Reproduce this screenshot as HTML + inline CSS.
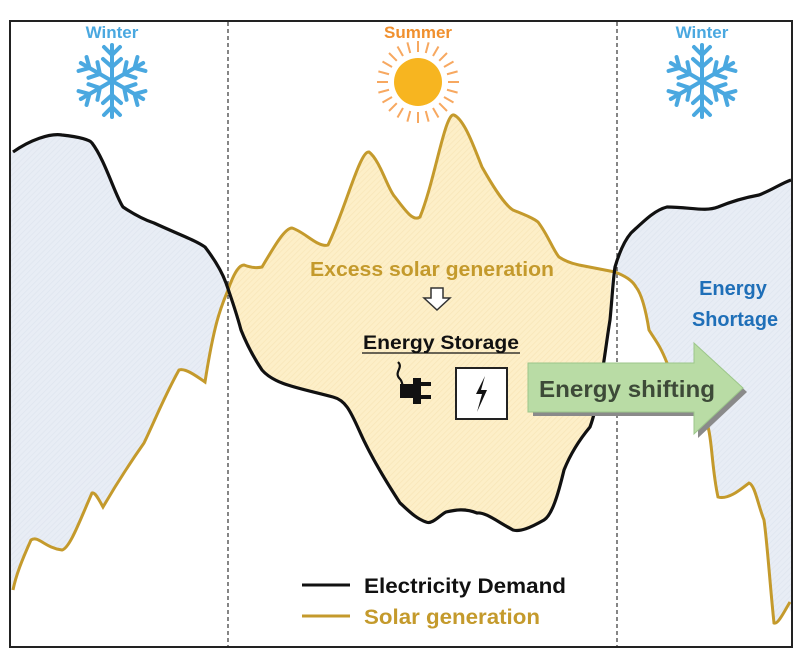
<!DOCTYPE html>
<html><head><meta charset="utf-8"><style>
html,body{margin:0;padding:0;background:#fff;}
svg{display:block;font-family:"Liberation Sans",sans-serif;}
</style></head><body>
<svg width="800" height="651" viewBox="0 0 800 651" xmlns="http://www.w3.org/2000/svg">
<defs>
<pattern id="hb" width="4" height="4" patternUnits="userSpaceOnUse" patternTransform="rotate(45)">
<rect width="4" height="4" fill="#e8edf5"/><line x1="0" y1="0" x2="0" y2="4" stroke="#dfe5ef" stroke-width="1.5"/></pattern>
<pattern id="hy" width="4" height="4" patternUnits="userSpaceOnUse" patternTransform="rotate(45)">
<rect width="4" height="4" fill="#fdefc8"/><line x1="0" y1="0" x2="0" y2="4" stroke="#f8e6b8" stroke-width="1.5"/></pattern>
<g id="flake" stroke="#4aa8e0" stroke-width="4" fill="none" stroke-linecap="round">
<g id="arm"><line x1="0" y1="0" x2="0" y2="-36"/><polyline points="-8,-34 0,-26 8,-34"/><polyline points="-9,-22 0,-14 9,-22"/></g>
<use href="#arm" transform="rotate(60)"/><use href="#arm" transform="rotate(120)"/><use href="#arm" transform="rotate(180)"/><use href="#arm" transform="rotate(240)"/><use href="#arm" transform="rotate(300)"/>
</g>
</defs>
<path d="M11,152 L13,152 C30,140 50,133 62,135 C80,137 90,140 92,143 C105,160 115,195 123,207 C135,215 145,220 154,223 C180,235 195,240 205,247 C215,260 222,272 228,288 L228,290 C222,305 215,318 205,382 C195,375 185,368 179,370 C165,395 155,420 144,443 C125,470 110,495 103,507 C98,498 95,492 92,493 C80,520 70,548 62,550 C45,548 38,535 31,540 C22,560 16,575 13,590 L11,590 Z" fill="url(#hb)"/>
<path d="M228,290 C235,270 240,265 244,265 C252,268 258,268 262,267 C275,245 285,228 292,228 C305,232 318,248 328,245 C345,210 360,150 369,152 C380,160 388,190 395,197 C405,210 413,222 420,217 C435,180 445,112 454,115 C465,120 475,150 482,167 C495,190 505,205 513,210 C525,215 533,218 538,222 C548,235 553,250 559,257 C568,263 575,264 579,265 C595,268 605,270 612,271 C610,290 610,305 610,320 C605,350 600,400 590,427 C575,445 568,460 564,470 C558,495 552,515 544,520 C530,528 520,532 513,530 C495,520 485,512 477,513 C465,508 455,510 446,512 C440,515 432,525 426,522 C415,518 408,510 400,503 C385,480 370,455 359,430 C350,410 345,400 333,397 C300,388 275,385 262,370 C252,355 245,340 241,330 C236,310 232,298 228,290 Z" fill="url(#hy)"/>
<path d="M612,271 C620,250 625,240 631,233 C645,220 655,210 667,207 C690,207 705,212 718,207 C735,200 748,197 759,195 C772,190 782,183 791,180 L791,612 C788,605 785,600 790,602 C785,610 778,625 774,623 C770,585 767,540 764,520 C758,505 755,485 749,483 C740,490 728,500 718,497 C712,470 712,440 708,427 C690,405 680,390 667,363 C660,345 655,340 649,330 C645,305 640,292 636,287 C628,278 620,273 612,271 Z" fill="url(#hb)"/>
<line x1="228" y1="22" x2="228" y2="647" stroke="#444" stroke-width="1.3" stroke-dasharray="4,3"/>
<line x1="617" y1="22" x2="617" y2="647" stroke="#444" stroke-width="1.3" stroke-dasharray="4,3"/>
<path d="M13,590 C16,575 22,560 31,540 C38,535 45,548 62,550 C70,548 80,520 92,493 C95,492 98,498 103,507 C110,495 125,470 144,443 C155,420 165,395 179,370 C185,368 195,375 205,382 C215,318 222,305 228,290 C235,270 240,265 244,265 C252,268 258,268 262,267 C275,245 285,228 292,228 C305,232 318,248 328,245 C345,210 360,150 369,152 C380,160 388,190 395,197 C405,210 413,222 420,217 C435,180 445,112 454,115 C465,120 475,150 482,167 C495,190 505,205 513,210 C525,215 533,218 538,222 C548,235 553,250 559,257 C568,263 575,264 579,265 C595,268 605,270 615,272 C625,276 632,280 636,287 C640,292 645,305 649,330 C655,340 660,345 667,363 C680,390 690,405 708,427 C712,440 712,470 718,497 C728,500 740,490 749,483 C755,485 758,505 764,520 C767,540 770,585 774,623 C778,625 785,610 790,602" fill="none" stroke="#c49a2c" stroke-width="3"/>
<path d="M13,152 C30,140 50,133 62,135 C80,137 90,140 92,143 C105,160 115,195 123,207 C135,215 145,220 154,223 C180,235 195,240 205,247 C215,260 222,272 226,283 C232,300 237,315 241,330 C245,340 252,355 262,370 C275,385 300,388 333,397 C345,400 350,410 359,430 C370,455 385,480 400,503 C408,510 415,518 426,522 C432,525 440,515 446,512 C455,510 465,508 477,513 C485,512 495,520 513,530 C520,532 530,528 544,520 C552,515 558,495 564,470 C568,460 575,445 590,427 C600,400 605,350 610,320 C612,300 613,280 615,267 C620,250 625,240 631,233 C645,220 655,210 667,207 C690,207 705,212 718,207 C735,200 748,197 759,195 C772,190 782,183 791,180" fill="none" stroke="#111" stroke-width="3.2"/>
<rect x="10" y="21" width="782" height="626" fill="none" stroke="#222" stroke-width="2"/>
<text x="112" y="38" text-anchor="middle" font-size="17" font-weight="bold" fill="#4aa8e0">Winter</text>
<text x="418" y="38" text-anchor="middle" font-size="17" font-weight="bold" fill="#f0902e">Summer</text>
<text x="702" y="38" text-anchor="middle" font-size="17" font-weight="bold" fill="#4aa8e0">Winter</text>
<use href="#flake" transform="translate(112,81)"/>
<use href="#flake" transform="translate(702,81)"/>
<g stroke="#f7a860" stroke-width="2">
<g id="rays">
<line x1="418" y1="52" x2="418" y2="41"/><line x1="418" y1="112" x2="418" y2="123"/>
<line x1="388" y1="82" x2="377" y2="82"/><line x1="448" y1="82" x2="459" y2="82"/>
</g>
<use href="#rays" transform="rotate(15 418 82)"/><use href="#rays" transform="rotate(30 418 82)"/><use href="#rays" transform="rotate(45 418 82)"/><use href="#rays" transform="rotate(60 418 82)"/><use href="#rays" transform="rotate(75 418 82)"/>
</g>
<circle cx="418" cy="82" r="24" fill="#f7b520"/>
<text x="432" y="276" text-anchor="middle" font-size="20" font-weight="bold" fill="#c49a2c" textLength="244" lengthAdjust="spacingAndGlyphs">Excess solar generation</text>
<path d="M431,288 h12 v10 h7 l-13,12 l-13,-12 h7 z" fill="#fff" stroke="#333" stroke-width="1.5"/>
<text x="441" y="349" text-anchor="middle" font-size="19" font-weight="bold" fill="#111" textLength="156" lengthAdjust="spacingAndGlyphs">Energy Storage</text>
<line x1="362" y1="353" x2="520" y2="353" stroke="#111" stroke-width="1.3"/>
<path d="M398,362 c6,6 -5,10 2,17 c3,3 2,8 4,10" fill="none" stroke="#111" stroke-width="2.2"/>
<path d="M400,384 h13 v-6 h8 v26 h-8 v-6 h-13 z" fill="#111"/>
<rect x="421" y="382" width="10" height="4" fill="#111"/><rect x="421" y="395" width="10" height="4" fill="#111"/>
<rect x="456" y="368" width="51" height="51" fill="#fff" stroke="#222" stroke-width="2"/>
<path d="M485,376 l-9,18 h6 l-5,18 l10,-22 h-6 l4,-14 z" fill="#111"/>
<path d="M531,365 h165 v-20 l49,45 l-49,46 v-22 h-165 z" fill="#8a8a8a" transform="translate(2,2)"/>
<path d="M528,363 h166 v-20 l49,45 l-49,46 v-22 h-166 z" fill="#b9dca5" stroke="#9cc68a" stroke-width="1"/>
<text x="627" y="397" text-anchor="middle" font-size="23" font-weight="bold" fill="#3d4a38" textLength="176" lengthAdjust="spacingAndGlyphs">Energy shifting</text>
<text x="733" y="295" text-anchor="middle" font-size="20" font-weight="bold" fill="#1f6fb8">Energy</text>
<text x="735" y="326" text-anchor="middle" font-size="20" font-weight="bold" fill="#1f6fb8" textLength="86" lengthAdjust="spacingAndGlyphs">Shortage</text>
<line x1="302" y1="585" x2="350" y2="585" stroke="#111" stroke-width="3"/>
<line x1="302" y1="616" x2="350" y2="616" stroke="#c49a2c" stroke-width="3"/>
<text x="364" y="593" font-size="21" font-weight="bold" fill="#111" textLength="202" lengthAdjust="spacingAndGlyphs">Electricity Demand</text>
<text x="364" y="624" font-size="21" font-weight="bold" fill="#c49a2c" textLength="176" lengthAdjust="spacingAndGlyphs">Solar generation</text>
</svg>
</body></html>
